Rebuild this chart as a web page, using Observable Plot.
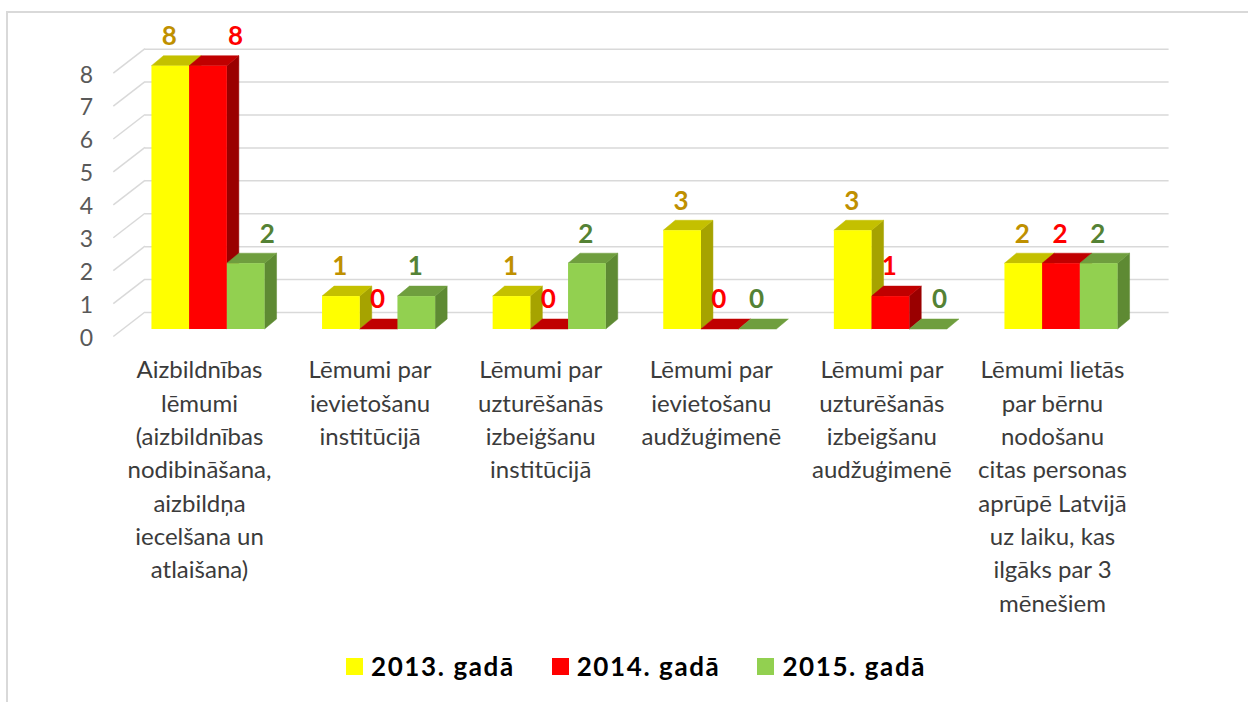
<!DOCTYPE html>
<html>
<head>
<meta charset="utf-8">
<script src="https://cdn.jsdelivr.net/npm/d3@7"></script>
<script src="https://cdn.jsdelivr.net/npm/@observablehq/plot@0.6"></script>
<style>
html, body { margin: 0; padding: 0; background: #fff; width: 1248px; height: 702px; overflow: hidden; }
#frame { position: absolute; left: 6px; top: 11px; width: 1400px; height: 800px; border-top: 2px solid #d9d9d9; border-left: 2px solid #d9d9d9; }
#chart { position: absolute; left: 0; top: 0; }
#legend { position: absolute; left: 346px; top: 651px; display: flex; align-items: center; font-family: Lato, sans-serif; font-weight: 700; font-size: 26px; line-height: 30px; letter-spacing: 1.6px; color: #000; }
#legend .item { display: flex; align-items: center; margin-right: 37px; }
#legend .sw { width: 17px; height: 17px; margin-right: 8px; }
</style>
</head>
<body>
<div id="frame"></div>
<div id="chart"></div>
<div id="legend"></div>
<script>
// ---- data ----
const categories = [
  "Aizbildnības\nlēmumi\n(aizbildnības\nnodibināšana,\naizbildņa\niecelšana un\natlaišana)",
  "Lēmumi par\nievietošanu\ninstitūcijā",
  "Lēmumi par\nuzturēšanās\nizbeiģšanu\ninstitūcijā",
  "Lēmumi par\nievietošanu\naudžuģimenē",
  "Lēmumi par\nuzturēšanās\nizbeigšanu\naudžuģimenē",
  "Lēmumi lietās\npar bērnu\nnodošanu\ncitas personas\naprūpē Latvijā\nuz laiku, kas\nilgāks par 3\nmēnešiem"
];
const seriesNames = ["2013. gadā", "2014. gadā", "2015. gadā"];
const values2013 = [8, 1, 1, 3, 3, 2];
const values2014 = [8, 0, 0, 0, 1, 2];
const values2015 = [2, 1, 2, 0, 0, 2];
const yTicks = [0, 1, 2, 3, 4, 5, 6, 7, 8];

// ---- styles ----
const frontColors = ["#FFFF00", "#FF0000", "#92D050"];
const topColors   = ["#C4C000", "#C00000", "#6F9E3E"];
const sideColors  = ["#A6A300", "#9A0000", "#5E8A33"];
const labelColors = ["#BF9000", "#FF0000", "#548235"];

// ---- layout ----
const W = 1248, H = 640;
const ML = 122.7, MR = 101.7, MT = 65.7, MB = H - 329;
const unitPx = (W - ML - MR) / categories.length;
const BW = 37.7 / unitPx;          // bar width in category units
const DX = 12, DY = 10;            // bar depth offset (px)
const WALL_DX = 22.3, WALL_DY = -17; // back wall offset (px)
const labelNudge = {"0-1": 27, "0-2": 21, "4-2": 11}; // Excel label shifts (px)

const allValues = [values2013, values2014, values2015];
const rows = [];
categories.forEach((c, i) => {
  allValues.forEach((vals, s) => {
    rows.push({cat: i, s, value: vals[i], series: seriesNames[s]});
  });
});
const bx1 = d => d.cat + (d.s - 1.5) * BW;
const bx2 = d => d.cat + (d.s - 0.5) * BW;

function wallMark(index, scales) {
  const {x, y} = scales;
  const g = d3.create("svg:g");
  for (const t of yTicks) {
    const xb = x(-0.5), yv = y(t);
    g.append("line")
      .attr("x1", xb - 9.4).attr("y1", yv + 7.5)
      .attr("x2", xb + WALL_DX).attr("y2", yv + WALL_DY)
      .attr("stroke", "#d9d9d9").attr("stroke-width", 1.5);
  }
  return g.node();
}

function depthFaces(index, scales) {
  const {x, y} = scales;
  const g = d3.create("svg:g");
  for (const d of rows) {
    const x1 = x(bx1(d)), x2 = x(bx2(d)), yt = y(d.value), yb = y(0);
    if (d.value > 0) {
      g.append("polygon")
        .attr("points", [[x2, yt], [x2 + DX, yt - DY], [x2 + DX, yb - DY], [x2, yb]].map(p => p.join(",")).join(" "))
        .attr("fill", sideColors[d.s]).attr("stroke", sideColors[d.s]).attr("stroke-width", 0.5);
    }
    g.append("polygon")
      .attr("points", [[x1, yt], [x2, yt], [x2 + DX, yt - DY], [x1 + DX, yt - DY]].map(p => p.join(",")).join(" "))
      .attr("fill", topColors[d.s]).attr("stroke", topColors[d.s]).attr("stroke-width", 0.5);
  }
  return g.node();
}

const chart = Plot.plot({
  width: W,
  height: H,
  marginLeft: ML,
  marginRight: MR,
  marginTop: MT,
  marginBottom: MB,
  x: {domain: [-0.5, categories.length - 0.5], axis: null},
  y: {domain: [0, 8], axis: null},
  style: {fontFamily: "Lato, sans-serif", background: "transparent", overflow: "visible"},
  marks: [
    Plot.ruleY(yTicks, {y: d => d, x1: -0.5, x2: categories.length - 0.5, dx: WALL_DX, dy: WALL_DY, stroke: "#d9d9d9", strokeWidth: 1.5}),
    wallMark,
    depthFaces,
    Plot.rect(rows, {x1: bx1, x2: bx2, y1: 0, y2: "value", fill: d => frontColors[d.s]}),
    Plot.text(yTicks, {x: -0.5, y: d => d, text: d => String(d), dx: -36.7, dy: 9, fontSize: 23, fill: "#595959"}),
    Plot.text(rows, {
      x: d => (bx1(d) + bx2(d)) / 2 + (labelNudge[`${d.cat}-${d.s}`] || -1.5) / unitPx,
      y: "value",
      text: d => String(d.value),
      dy: -29.5,
      fontSize: 26,
      fontWeight: "bold",
      fill: d => labelColors[d.s]
    }),
    Plot.text(categories, {
      x: (d, i) => i,
      y: 0,
      text: d => d,
      dx: -9,
      dy: 25,
      lineAnchor: "top",
      lineHeight: 1.39,
      fontSize: 24,
      fill: "#3b3b3b"
    })
  ]
});
document.getElementById("chart").appendChild(chart);

const legend = document.getElementById("legend");
seriesNames.forEach((name, s) => {
  const item = document.createElement("div");
  item.className = "item";
  const sw = document.createElement("div");
  sw.className = "sw";
  sw.style.background = frontColors[s];
  const label = document.createElement("span");
  label.textContent = name;
  item.appendChild(sw);
  item.appendChild(label);
  legend.appendChild(item);
});
</script>
</body>
</html>
